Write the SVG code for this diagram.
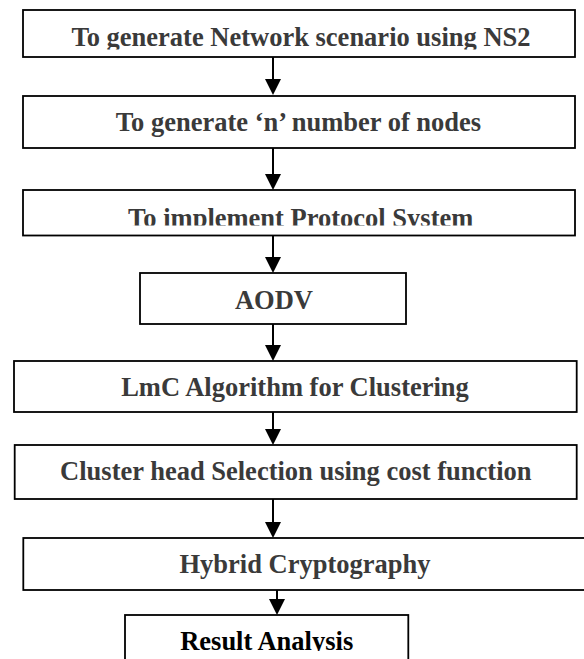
<svg xmlns="http://www.w3.org/2000/svg" width="584" height="659" viewBox="0 0 584 659">
  <defs>
    <style>
      .box { fill: #ffffff; stroke: #000000; stroke-width: 1.8; }
      .lbl { font-family: "Liberation Serif", "Times New Roman", serif; font-weight: bold; font-size: 26.5px; fill: #3a3a3a; text-anchor: middle; }
      .dark { fill: #000000; }
      .flow { fill: none; stroke: #000000; stroke-width: 2; marker-end: url(#head); }
    </style>
    <!-- filled triangular arrowhead; tip lands 8px past the line end -->
    <marker id="head" viewBox="0 0 16 16" markerWidth="16" markerHeight="16" markerUnits="userSpaceOnUse" refX="8" refY="8" orient="auto">
      <path d="M0,0 L16,8 L0,16 Z" fill="#000000"/>
    </marker>
    <clipPath id="clip-scenario"><rect x="0" y="0" width="584" height="49.5"/></clipPath>
    <clipPath id="clip-protocol"><rect x="0" y="180" width="584" height="45.5"/></clipPath>
    <clipPath id="clip-result"><rect x="0" y="600" width="584" height="51"/></clipPath>
  </defs>
  <rect width="584" height="659" fill="#ffffff"/>

  <g id="connectors">
    <path class="flow" d="M273,57 V87"/>
    <path class="flow" d="M273,148 V182"/>
    <path class="flow" d="M273,235.5 V265"/>
    <path class="flow" d="M273,324 V353"/>
    <path class="flow" d="M273,412 V437"/>
    <path class="flow" d="M273,499 V530"/>
    <path class="flow" d="M277,590 V607"/>
  </g>

  <g id="node-scenario">
    <rect class="box" x="23" y="10" width="552" height="47"/>
    <text class="lbl" x="301" y="45.7" clip-path="url(#clip-scenario)">To generate Network scenario using NS2</text>
  </g>

  <g id="node-nodes">
    <rect class="box" x="23" y="96" width="552" height="52"/>
    <text class="lbl" x="298.5" y="131">To generate ‘n’ number of nodes</text>
  </g>

  <g id="node-protocol">
    <rect class="box" x="23" y="190" width="552" height="45.5"/>
    <text class="lbl" x="300.7" y="226.5" clip-path="url(#clip-protocol)">To implement Protocol System</text>
  </g>

  <g id="node-aodv">
    <rect class="box" x="140" y="273" width="266" height="51"/>
    <text class="lbl" x="274" y="309.3">AODV</text>
  </g>

  <g id="node-lmc">
    <rect class="box" x="14" y="361" width="562.7" height="51"/>
    <text class="lbl" x="295" y="396">LmC Algorithm for Clustering</text>
  </g>

  <g id="node-cluster-head">
    <rect class="box" x="14.7" y="445" width="562" height="54"/>
    <text class="lbl" x="295.8" y="480">Cluster head Selection using cost function</text>
  </g>

  <g id="node-crypto">
    <rect class="box" x="23.3" y="538" width="566" height="52"/>
    <text class="lbl" x="305" y="573.3">Hybrid Cryptography</text>
  </g>

  <g id="node-result">
    <rect class="box" x="125" y="615" width="283.3" height="60"/>
    <text class="lbl dark" x="266.7" y="650" clip-path="url(#clip-result)">Result Analysis</text>
  </g>
</svg>
